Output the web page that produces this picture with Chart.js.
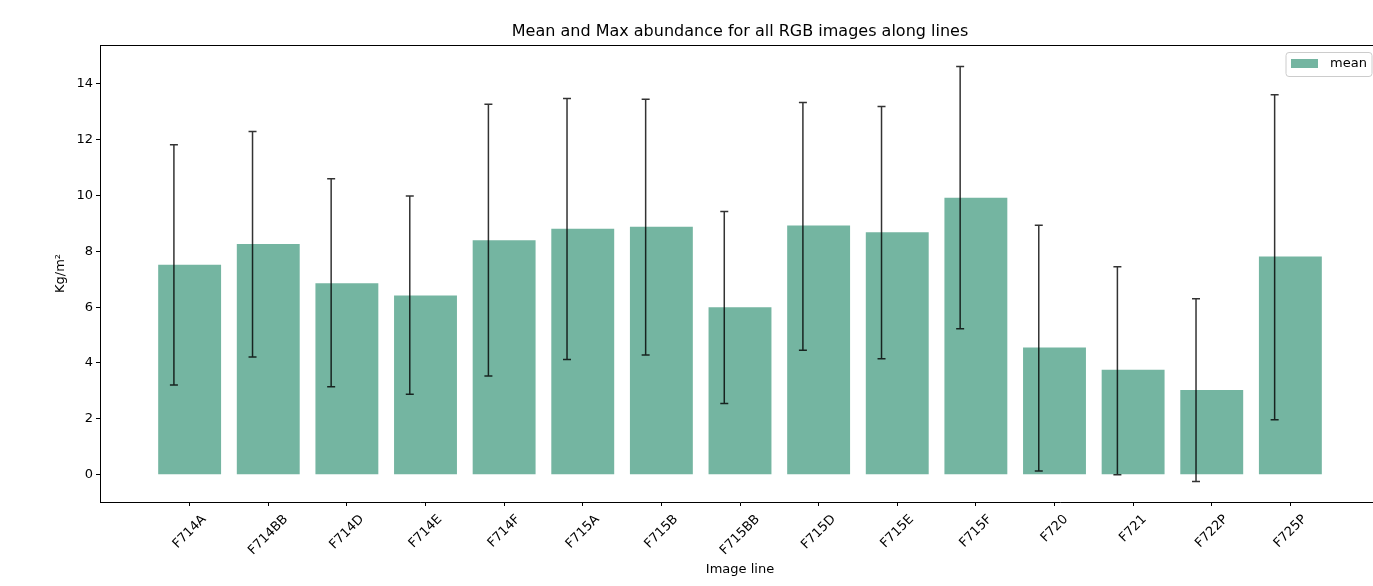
<!DOCTYPE html>
<html>
<head>
<meta charset="utf-8">
<script src="https://cdn.jsdelivr.net/npm/chart.js@4"></script>
<style>
  html, body { margin: 0; padding: 0; background: #fff; overflow: hidden; }
  #wrap { width: 1390px; height: 586px; position: relative; }
</style>
</head>
<body>
<div id="wrap"><canvas id="absChart"></canvas></div>
<script>
// data
const categories = ['F714A', 'F714BB', 'F714D', 'F714E', 'F714F', 'F715A', 'F715B', 'F715BB', 'F715D', 'F715E', 'F715F', 'F720', 'F721', 'F722P', 'F725P'];
const meanValues = [7.52, 8.26, 6.86, 6.42, 8.40, 8.81, 8.88, 6.00, 8.92, 8.68, 9.92, 4.55, 3.76, 3.03, 7.81];
const errLow = [3.21, 4.21, 3.15, 2.88, 3.53, 4.12, 4.29, 2.55, 4.46, 4.15, 5.23, 0.13, 0.00, -0.25, 1.97];
const errHigh = [11.82, 12.29, 10.60, 9.98, 13.27, 13.47, 13.45, 9.43, 13.33, 13.19, 14.62, 8.93, 7.45, 6.30, 13.61];
const yTicks = [0, 2, 4, 6, 8, 10, 12, 14];

const FONT = '"DejaVu Sans", sans-serif';
const barColor = 'rgb(116, 181, 161)';
Chart.defaults.color = '#000';
Chart.defaults.font.family = FONT;

// error bars, title, top spine, rotated x labels, legend
const extras = {
    id: 'extras',
    afterDatasetsDraw(chart) {
        const ctx = chart.ctx;
        const xs = chart.scales.x, ys = chart.scales.y;
        ctx.save();
        ctx.strokeStyle = 'rgba(0,0,0,0.8)';
        ctx.lineWidth = 1.5;
        for (let i = 0; i < categories.length; i++) {
            const x = xs.getPixelForValue(i - 0.2);
            const y1 = ys.getPixelForValue(errLow[i]);
            const y2 = ys.getPixelForValue(errHigh[i]);
            ctx.beginPath();
            ctx.moveTo(x, y1); ctx.lineTo(x, y2);
            ctx.moveTo(x - 4, y1); ctx.lineTo(x + 4, y1);
            ctx.moveTo(x - 4, y2); ctx.lineTo(x + 4, y2);
            ctx.stroke();
        }
        ctx.restore();
    },
    afterDraw(chart) {
        const ctx = chart.ctx;
        const area = chart.chartArea;
        const xs = chart.scales.x;
        ctx.save();
        // top spine
        ctx.strokeStyle = '#000';
        ctx.lineWidth = 1;
        ctx.beginPath();
        ctx.moveTo(area.left, area.top + 0.5);
        ctx.lineTo(area.right, area.top + 0.5);
        ctx.stroke();
        // title
        ctx.fillStyle = '#000';
        ctx.font = '16px ' + FONT;
        ctx.textAlign = 'center';
        ctx.textBaseline = 'middle';
        ctx.fillText('Mean and Max abundance for all RGB images along lines', (area.left + area.right) / 2, 32);
        // x labels, rotated 45 and centred on the tick
        ctx.font = '13px ' + FONT;
        for (let i = 0; i < categories.length; i++) {
            const w = ctx.measureText(categories[i]).width;
            const x = xs.getPixelForValue(i);
            const y = area.bottom + 10 + (w + 15) * 0.3536;
            ctx.save();
            ctx.translate(x, y);
            ctx.rotate(-Math.PI / 4);
            ctx.fillText(categories[i], 0, 0);
            ctx.restore();
        }
        // legend
        const lx = 1286, ly = 52.5, lw = 86, lh = 24, r = 3;
        ctx.beginPath();
        ctx.moveTo(lx + r, ly);
        ctx.lineTo(lx + lw - r, ly); ctx.arcTo(lx + lw, ly, lx + lw, ly + r, r);
        ctx.lineTo(lx + lw, ly + lh - r); ctx.arcTo(lx + lw, ly + lh, lx + lw - r, ly + lh, r);
        ctx.lineTo(lx + r, ly + lh); ctx.arcTo(lx, ly + lh, lx, ly + lh - r, r);
        ctx.lineTo(lx, ly + r); ctx.arcTo(lx, ly, lx + r, ly, r);
        ctx.closePath();
        ctx.fillStyle = 'rgba(255,255,255,0.8)';
        ctx.fill();
        ctx.strokeStyle = '#cccccc';
        ctx.stroke();
        ctx.fillStyle = barColor;
        ctx.fillRect(1291, 59, 27, 9);
        ctx.fillStyle = '#000';
        ctx.textAlign = 'left';
        ctx.fillText('mean', 1330, 64);
        ctx.restore();
    }
};

const absChart = new Chart(document.getElementById('absChart'), {
    type: 'bar',
    data: {
        datasets: [{
            label: 'mean',
            data: meanValues.map((v, i) => ({ x: i, y: v })),
            backgroundColor: barColor,
            borderWidth: 0,
            barPercentage: 0.8,
            categoryPercentage: 1.0
        }]
    },
    options: {
        responsive: true,
        maintainAspectRatio: false,
        animation: false,
        layout: { padding: { left: 0, top: 45, right: 10, bottom: 0 } },
        plugins: {
            legend: { display: false },
            tooltip: { enabled: false }
        },
        scales: {
            x: {
                type: 'linear',
                min: -1.14,
                max: 15.14,
                offset: false,
                afterBuildTicks: (s) => { s.ticks = categories.map((c, i) => ({ value: i })); },
                afterFit: (s) => { s.height = 84; },
                grid: { offset: false, drawOnChartArea: false, drawTicks: true, tickLength: 4, color: '#000' },
                border: { color: '#000', width: 1 },
                ticks: { display: false },
                title: { display: true, text: 'Image line', font: { size: 13 }, padding: { top: 0, bottom: 9 } }
            },
            y: {
                min: -0.98,
                max: 15.39,
                afterBuildTicks: (s) => { s.ticks = yTicks.map(v => ({ value: v })); },
                afterFit: (s) => { s.width = 100; },
                grid: { drawOnChartArea: false, drawTicks: true, tickLength: 4, color: '#000' },
                border: { color: '#000', width: 1 },
                ticks: { font: { size: 13 }, padding: 3 },
                title: { display: true, text: 'Kg/m²', font: { size: 13 }, padding: { top: 53, bottom: 0 } }
            }
        }
    },
    plugins: [extras]
});
</script>
</body>
</html>
